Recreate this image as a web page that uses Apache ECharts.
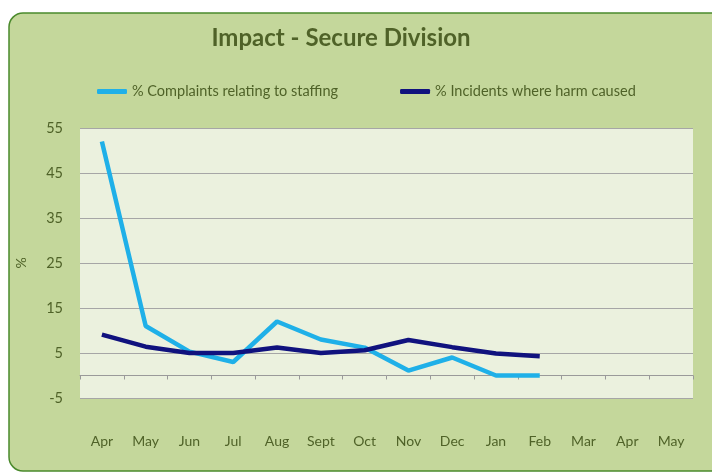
<!DOCTYPE html>
<html>
<head>
<meta charset="utf-8">
<script src="https://cdn.jsdelivr.net/npm/echarts@6/dist/echarts.min.js"></script>
<style>
  html, body { margin: 0; padding: 0; background: #fff; }
  #main { width: 712px; height: 474px; }
</style>
</head>
<body>
<div id="main"></div>
<script>
const months = ['Apr', 'May', 'Jun', 'Jul', 'Aug', 'Sept', 'Oct', 'Nov', 'Dec', 'Jan', 'Feb', 'Mar', 'Apr', 'May']
const complaints = [52, 11, 5.3, 3, 12, 8, 6.2, 1.1, 4, 0, 0, null, null, null]
const incidents = [9.1, 6.4, 5, 5, 6.2, 5, 5.6, 7.9, 6.3, 4.9, 4.3, null, null, null]
const seriesNames = ['% Complaints relating to staffing', '% Incidents where harm caused']

const textColor = '#4f6228'
const font = 'Lato'

const chart = echarts.init(document.getElementById('main'))
chart.setOption({
  backgroundColor: '#fff',
  textStyle: { fontFamily: font },
  graphic: [
    {
      type: 'rect',
      z: -10,
      shape: { x: 9, y: 13, width: 720, height: 458, r: 14 },
      style: { fill: '#c4d79b', stroke: '#4a8a2c', lineWidth: 1.5 }
    }
  ],
  title: {
    text: 'Impact - Secure Division',
    left: 336,
    textAlign: 'center',
    top: 21,
    textStyle: { color: textColor, fontSize: 24, fontWeight: 'bold', fontFamily: font }
  },
  legend: {
    left: 92,
    top: 79,
    itemGap: 62,
    itemWidth: 30,
    itemHeight: 5,
    icon: 'roundRect',
    textStyle: { color: textColor, fontSize: 14.5, fontFamily: font },
    data: seriesNames
  },
  grid: {
    left: 80,
    right: 19,
    top: 128,
    bottom: 76,
    show: true,
    backgroundColor: '#ebf1de',
    borderWidth: 0
  },
  xAxis: {
    type: 'category',
    data: months,
    axisLine: { onZero: true, lineStyle: { color: '#9a9a9a', width: 1 } },
    axisTick: { show: true, length: 4, lineStyle: { color: '#9a9a9a' } },
    axisLabel: { color: textColor, fontSize: 14, margin: 36, fontFamily: font }
  },
  yAxis: {
    type: 'value',
    min: -5,
    max: 55,
    interval: 10,
    name: '%',
    nameLocation: 'middle',
    nameGap: 52,
    nameRotate: 90,
    nameTextStyle: { color: textColor, fontSize: 14, fontFamily: font },
    axisLine: { show: false },
    axisTick: { show: false },
    axisLabel: { color: textColor, fontSize: 14.5, margin: 17, fontFamily: font },
    splitLine: { lineStyle: { color: '#a6a6a6', width: 1.2 } }
  },
  series: [
    {
      name: seriesNames[0],
      type: 'line',
      data: complaints,
      symbol: 'none',
      color: '#1fb0e8',
      lineStyle: { width: 4.5 }
    },
    {
      name: seriesNames[1],
      type: 'line',
      data: incidents,
      symbol: 'none',
      color: '#10127e',
      lineStyle: { width: 4.5 }
    }
  ]
})
</script>
</body>
</html>
